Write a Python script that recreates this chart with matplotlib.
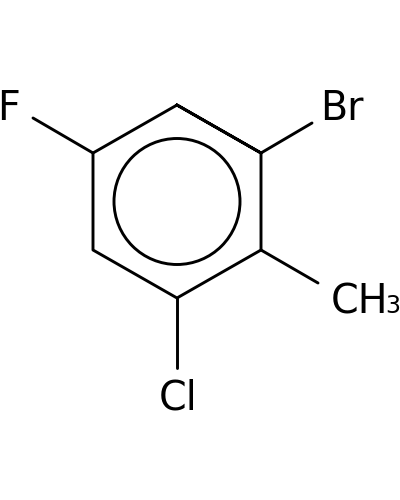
import matplotlib
matplotlib.use("Agg")
import matplotlib.pyplot as plt
from matplotlib.patches import Circle

# ring atoms, top and then clockwise, in image pixels
ring_x = [177, 261, 261, 177, 93, 93]
ring_y = [105, 153, 250, 298, 250, 153]

# substituent bonds: ring atom index, bond end
bond_atoms = [1, 2, 3, 5]
bond_end_x = [312, 318, 177, 33]
bond_end_y = [123, 283, 368, 118]

label_text = ["Br", "CH", "Cl", "F"]
label_x = [320.5, 331, 159, -3]
label_y = [120, 313, 410, 120]

circle_center = (177, 201.5)
circle_radius = 63

fig = plt.figure(figsize=(4, 5), dpi=100)
ax = fig.add_axes([0, 0, 1, 1])
ax.set_xlim(0, 400)
ax.set_ylim(500, 0)
ax.axis("off")

lw = 2.1
ax.plot(ring_x + ring_x[:2], ring_y + ring_y[:2], color="black", lw=lw, solid_joinstyle="round")
for a, ex, ey in zip(bond_atoms, bond_end_x, bond_end_y):
    ax.plot([ring_x[a], ex], [ring_y[a], ey], color="black", lw=lw, solid_capstyle="round")
ax.add_patch(Circle(circle_center, circle_radius, fill=False, ec="black", lw=lw))

for t, x, y in zip(label_text, label_x, label_y):
    ax.text(x, y, t, ha="left", va="baseline", fontsize=28.5, color="black", family="DejaVu Sans")
# subscript of the methyl group sits on the same baseline
ax.text(385, 313, "3", ha="left", va="baseline", fontsize=17, color="black", family="DejaVu Sans")

fig.savefig("out.png", dpi=100)
